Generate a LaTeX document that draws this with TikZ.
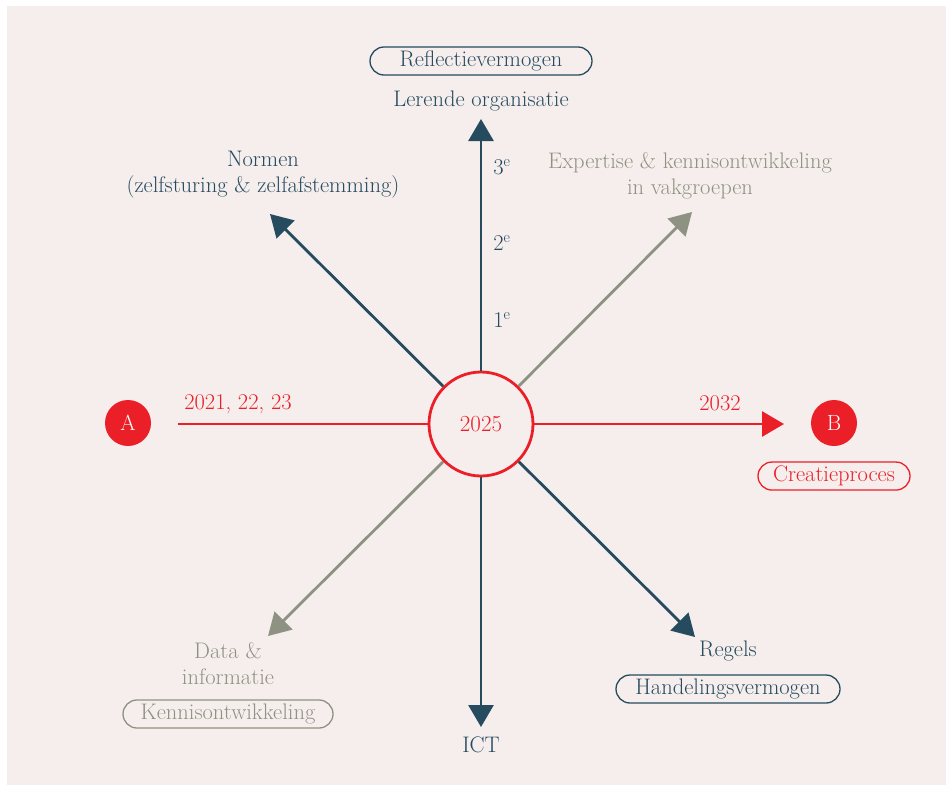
\documentclass[tikz,border=0pt]{standalone}
\usepackage{fontspec}
\usepackage{tikz}
\usetikzlibrary{arrows.meta,positioning}

\definecolor{paper}{HTML}{F6EEEC}
\definecolor{ink}{HTML}{264B5F}
\definecolor{sage}{HTML}{8E9282}
\definecolor{signal}{HTML}{EA1F28}

\begin{document}
\begin{tikzpicture}[x=1pt,y=-1pt,>={Triangle[length=22pt,width=25pt]},line width=2.8pt,
  text node/.style={font=\fontsize{22.5}{26}\selectfont,align=center,inner sep=0pt},
  tag node/.style={draw,rounded corners=14pt,line width=1.3pt,font=\fontsize{22.5}{24}\selectfont,minimum height=28pt,inner sep=0pt},
  point node/.style={circle,fill=signal,minimum size=46pt,inner sep=0pt,text=white,font=\fontsize{22}{24}\selectfont}]

  \useasboundingbox (0,0) rectangle (948,785);
  \fill[white] (0,0) rectangle (948,785);
  \fill[paper] (7,6) rectangle (946,785);

  \node[circle,draw=signal,line width=2.8pt,minimum size=104pt,inner sep=0pt,text=signal,font=\fontsize{23}{26}\selectfont] (mid) at (481,424) {2025};

  \node[point node] (ptA) at (128,423) {A};
  \node[point node] (ptB) at (834,423) {B};
  \node[tag node,draw=signal,text=signal,minimum width=152pt] (creatie) [below=14pt of ptB] {Creatieproces};
  \node[text node,text=signal] (yrsA) at (238,404) {2021, 22, 23};
  \node[text node,text=signal] (yrsB) at (720,403) {2032};

  \node[tag node,draw=ink,text=ink,minimum width=222pt] (refl) at (481,61) {Reflectievermogen};
  \node[text node,text=ink] (lerend) at (481,101) {Lerende organisatie};
  \node[text node,text=ink] (normen) at (263,175) {Normen\\(zelfsturing \& zelfafstemming)};
  \node[text node,text=sage] (expertise) at (690,176) {Expertise \& kennisontwikkeling\\in vakgroepen};
  \node[text node,text=sage] (data) at (228,664) {Data \&\\informatie};
  \node[tag node,draw=sage,text=sage,minimum width=210pt] (kennis) at (228,714) {Kennisontwikkeling};
  \node[text node,text=ink] (regels) at (728,651) {Regels};
  \node[tag node,draw=ink,text=ink,minimum width=224pt] (handel) at (728,689) {Handelingsvermogen};
  \node[text node,text=ink] (ict) at (481,745) {ICT};

  \node[text node,text=ink] (r3) at (502,167) {3\textsuperscript{e}};
  \node[text node,text=ink] (r2) at (502,243) {2\textsuperscript{e}};
  \node[text node,text=ink] (r1) at (502,320) {1\textsuperscript{e}};

  \coordinate (startA) at (178,424);
  \coordinate (tipB) at (784,424);
  \coordinate (tipN) at (481,119);
  \coordinate (tipS) at (481,727);
  \coordinate (tipNW) at (270,214);
  \coordinate (tipNE) at (692,212);
  \coordinate (tipSW) at (268,636);
  \coordinate (tipSE) at (695,637);

  % assen
  \draw[ink,->] (mid) -- (tipN);
  \draw[ink,->] (mid) -- (tipS);
  \draw[ink,->] (mid) -- (tipNW);
  \draw[ink,->] (mid) -- (tipSE);
  \draw[sage,->] (mid) -- (tipNE);
  \draw[sage,->] (mid) -- (tipSW);
  \draw[signal] (startA) -- (mid);
  \draw[signal,->] (mid) -- (tipB);
\end{tikzpicture}
\end{document}
